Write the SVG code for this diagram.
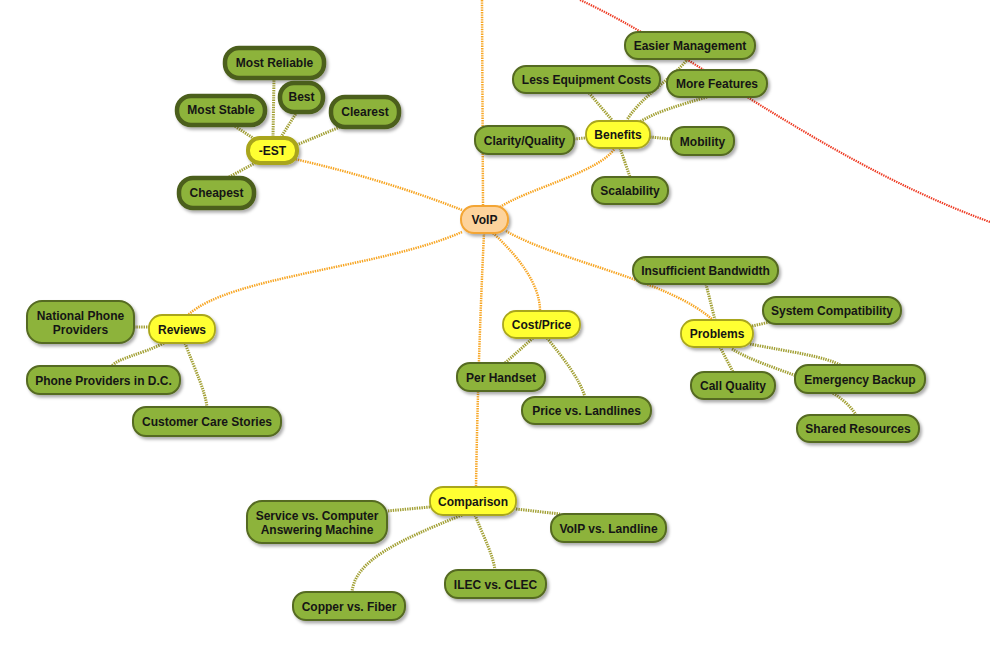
<svg xmlns="http://www.w3.org/2000/svg" width="990" height="659" viewBox="0 0 990 659">
<defs>
<filter id="sh" x="-20%" y="-30%" width="140%" height="170%">
<feDropShadow dx="2" dy="2.5" stdDeviation="1.6" flood-color="#000" flood-opacity="0.32"/>
</filter>
<style>
.t{font-family:"Liberation Sans",Arial,sans-serif;font-weight:bold;font-size:12px;fill:#151515;text-anchor:middle}
.g{fill:#8db33a;stroke:#556a22;stroke-width:2;filter:url(#sh)}
.gt{fill:#8db33a;stroke:#4c5e1c;stroke-width:4.5;filter:url(#sh)}
.y{fill:#ffff33;stroke:#a9a61c;stroke-width:1.8;filter:url(#sh)}
.yt{fill:#ffff33;stroke:#a9a51a;stroke-width:4;filter:url(#sh)}
.v{fill:#fdd39c;stroke:#f3a534;stroke-width:2;filter:url(#sh)}
.o{fill:none;stroke:#f7a522;stroke-width:2.5;stroke-dasharray:1.4 1}
.c{fill:none;stroke:#a2a034;stroke-width:3;stroke-dasharray:1.4 1}
.r{fill:none;stroke:#ee3a22;stroke-width:2.2;stroke-dasharray:1.4 1}
</style>
</defs>
<rect width="990" height="659" fill="#ffffff"/>
<g id="connectors">
<path class="r" d="M580,0 C690,50 820,160 990,222"/>
<path class="o" d="M482,0 L483,206"/>
<path class="o" d="M462,210 Q380,178 290,158"/>
<path class="o" d="M500,207 C530,188 600,172 615,148"/>
<path class="o" d="M462,232 C380,268 230,276 188,315"/>
<path class="o" d="M493,233 C520,258 540,285 540,311"/>
<path class="o" d="M506,231 C560,262 670,280 714,321"/>
<path class="o" d="M484,233 Q478,360 476,487"/>
<path class="c" d="M274,78 L273,137"/>
<path class="c" d="M297,112 L281,137"/>
<path class="c" d="M233,125 L256,140"/>
<path class="c" d="M340,127 L294,146"/>
<path class="c" d="M229,177 L255,163"/>
<path class="c" d="M589,93 L612,120"/>
<path class="c" d="M688,59 C670,80 640,98 627,120"/>
<path class="c" d="M707,97 C680,105 655,112 640,122"/>
<path class="c" d="M574,139 L585,138"/>
<path class="c" d="M650,137 L671,139"/>
<path class="c" d="M620,148 L630,177"/>
<path class="c" d="M706,284 L715,320"/>
<path class="c" d="M752,326 L770,322"/>
<path class="c" d="M720,347 L733,372"/>
<path class="c" d="M750,344 C790,352 825,356 842,366"/>
<path class="c" d="M732,349 C770,372 835,380 856,415"/>
<path class="c" d="M533,338 L505,363"/>
<path class="c" d="M547,338 C565,360 580,380 585,397"/>
<path class="c" d="M134,327 L149,327"/>
<path class="c" d="M164,343 C140,355 118,358 112,366"/>
<path class="c" d="M185,343 C195,370 205,390 207,407"/>
<path class="c" d="M430,507 L387,511"/>
<path class="c" d="M516,509 L560,514"/>
<path class="c" d="M475,515 C485,540 493,555 495,570"/>
<path class="c" d="M462,515 C400,540 355,560 352,592"/>
</g>
<g id="voip"><rect class="v" x="461" y="206" width="47" height="27" rx="13"/><text class="t" x="484.5" y="224">VoIP</text></g>
<g id="est"><rect class="yt" x="248" y="138" width="49" height="25" rx="12"/><text class="t" x="272.5" y="155">-EST</text></g>
<g id="most-reliable"><rect class="gt" x="225" y="48" width="99" height="30" rx="14"/><text class="t" x="274.5" y="67">Most Reliable</text></g>
<g id="most-stable"><rect class="gt" x="177" y="96" width="88" height="29" rx="14"/><text class="t" x="221" y="114">Most Stable</text></g>
<g id="best"><rect class="gt" x="280" y="83" width="43" height="29" rx="14"/><text class="t" x="301.5" y="101">Best</text></g>
<g id="clearest"><rect class="gt" x="331" y="97" width="68" height="30" rx="14"/><text class="t" x="365" y="116">Clearest</text></g>
<g id="cheapest"><rect class="gt" x="179" y="178" width="75" height="30" rx="14"/><text class="t" x="216.5" y="197">Cheapest</text></g>
<g id="benefits"><rect class="y" x="586" y="121" width="64" height="27" rx="13"/><text class="t" x="618" y="139">Benefits</text></g>
<g id="easier-management"><rect class="g" x="625" y="32" width="130" height="27" rx="13"/><text class="t" x="690" y="50">Easier Management</text></g>
<g id="less-equipment-costs"><rect class="g" x="513" y="66" width="147" height="27" rx="13"/><text class="t" x="586.5" y="84">Less Equipment Costs</text></g>
<g id="more-features"><rect class="g" x="667" y="70" width="100" height="27" rx="13"/><text class="t" x="717" y="88">More Features</text></g>
<g id="clarity-quality"><rect class="g" x="475" y="126" width="99" height="28" rx="13"/><text class="t" x="524.5" y="145">Clarity/Quality</text></g>
<g id="mobility"><rect class="g" x="671" y="127" width="63" height="28" rx="13"/><text class="t" x="702.5" y="146">Mobility</text></g>
<g id="scalability"><rect class="g" x="592" y="177" width="76" height="27" rx="13"/><text class="t" x="630" y="195">Scalability</text></g>
<g id="problems"><rect class="y" x="681" y="320" width="72" height="27" rx="13"/><text class="t" x="717" y="338">Problems</text></g>
<g id="insufficient-bandwidth"><rect class="g" x="633" y="257" width="145" height="27" rx="13"/><text class="t" x="705.5" y="275">Insufficient Bandwidth</text></g>
<g id="system-compatibility"><rect class="g" x="763" y="297" width="138" height="27" rx="13"/><text class="t" x="832" y="315">System Compatibility</text></g>
<g id="call-quality"><rect class="g" x="691" y="372" width="84" height="27" rx="13"/><text class="t" x="733" y="390">Call Quality</text></g>
<g id="emergency-backup"><rect class="g" x="795" y="365" width="130" height="28" rx="13"/><text class="t" x="860" y="384">Emergency Backup</text></g>
<g id="shared-resources"><rect class="g" x="797" y="415" width="122" height="27" rx="13"/><text class="t" x="858" y="433">Shared Resources</text></g>
<g id="cost-price"><rect class="y" x="503" y="311" width="77" height="27" rx="13"/><text class="t" x="541.5" y="329">Cost/Price</text></g>
<g id="per-handset"><rect class="g" x="457" y="363" width="88" height="28" rx="13"/><text class="t" x="501" y="382">Per Handset</text></g>
<g id="price-vs-landlines"><rect class="g" x="522" y="397" width="129" height="27" rx="13"/><text class="t" x="586.5" y="415">Price vs. Landlines</text></g>
<g id="reviews"><rect class="y" x="149" y="315" width="66" height="28" rx="13"/><text class="t" x="182" y="334">Reviews</text></g>
<g id="national-phone-providers"><rect class="g" x="27" y="301" width="107" height="42" rx="15"/><text class="t" x="80.5" y="320">National Phone</text><text class="t" x="80.5" y="334">Providers</text></g>
<g id="phone-providers-dc"><rect class="g" x="27" y="366" width="153" height="28" rx="13"/><text class="t" x="103.5" y="385">Phone Providers in D.C.</text></g>
<g id="customer-care-stories"><rect class="g" x="133" y="407" width="148" height="29" rx="13"/><text class="t" x="207" y="426">Customer Care Stories</text></g>
<g id="comparison"><rect class="y" x="430" y="487" width="86" height="28" rx="13"/><text class="t" x="473" y="506">Comparison</text></g>
<g id="service-vs-computer"><rect class="g" x="247" y="501" width="140" height="42" rx="15"/><text class="t" x="317" y="520">Service vs. Computer</text><text class="t" x="317" y="534">Answering Machine</text></g>
<g id="voip-vs-landline"><rect class="g" x="551" y="514" width="115" height="28" rx="13"/><text class="t" x="608.5" y="533">VoIP vs. Landline</text></g>
<g id="ilec-vs-clec"><rect class="g" x="445" y="570" width="101" height="28" rx="13"/><text class="t" x="495.5" y="589">ILEC vs. CLEC</text></g>
<g id="copper-vs-fiber"><rect class="g" x="293" y="592" width="112" height="28" rx="13"/><text class="t" x="349" y="611">Copper vs. Fiber</text></g>
</svg>
